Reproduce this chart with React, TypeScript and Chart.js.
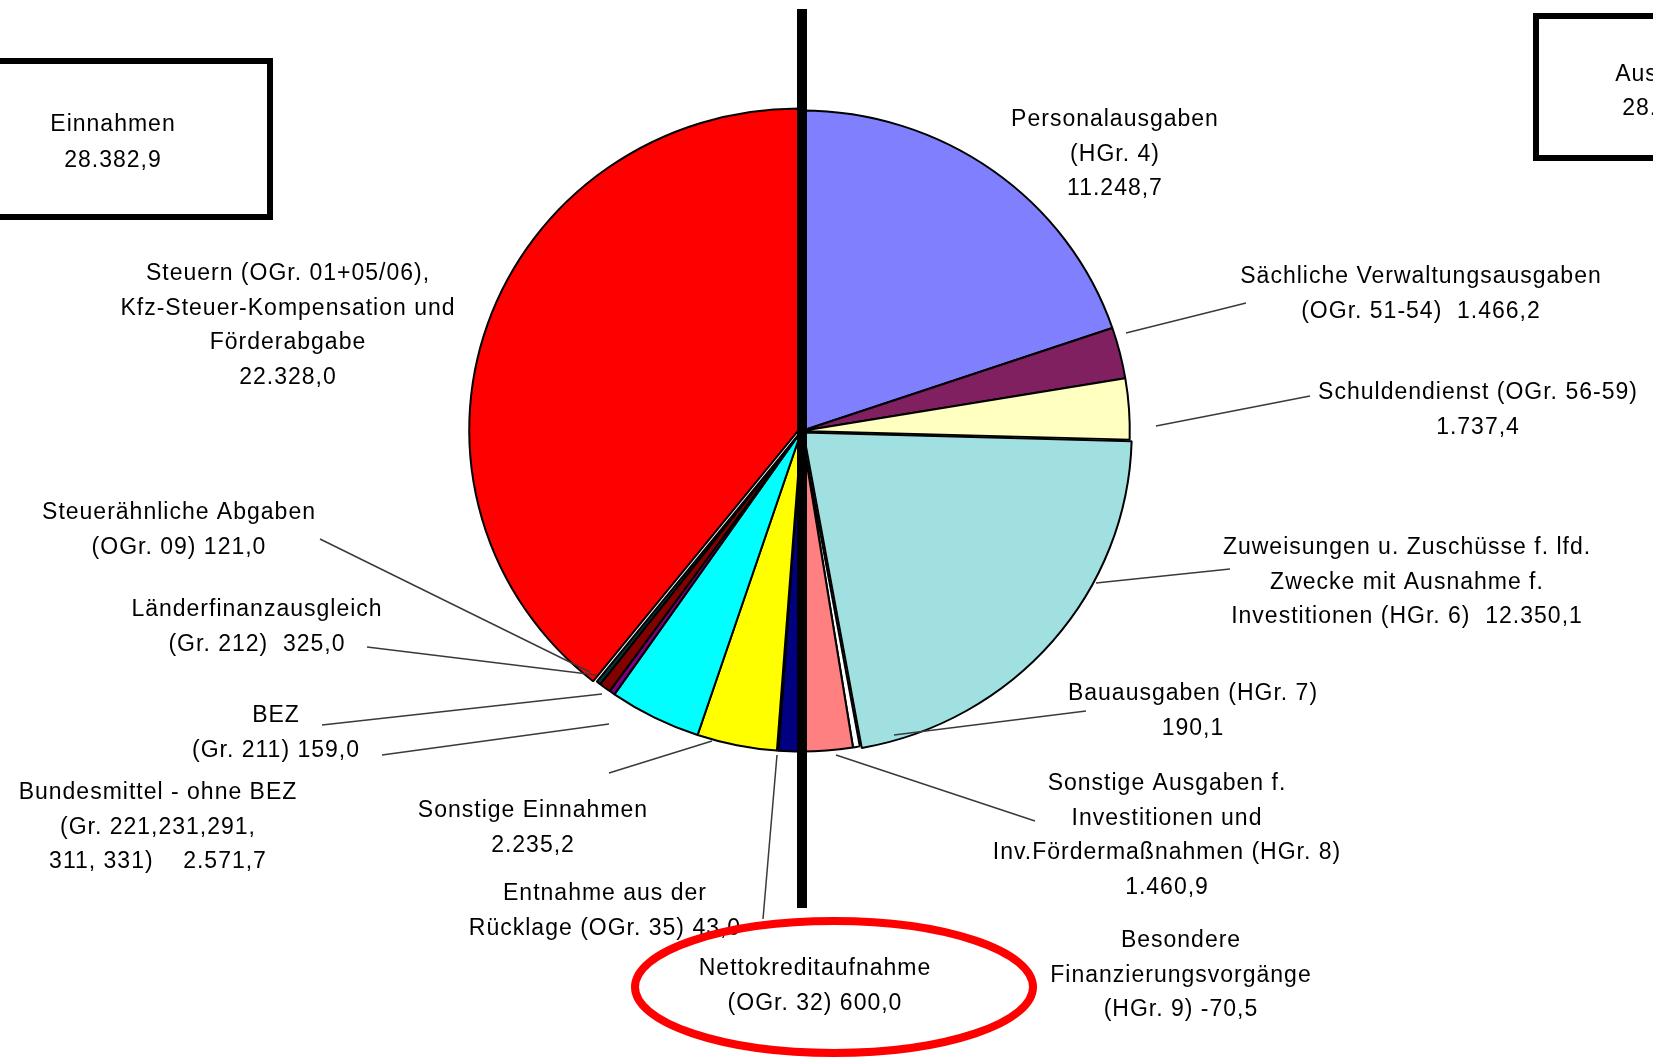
import { useEffect, useRef } from "react";
import { Chart, registerables } from "chart.js";

Chart.register(...registerables);

// ---------- data ----------
// Ausgaben (right half, clockwise from 12 o'clock)
const ausgabenNames = [
  "Personalausgaben",
  "Sächliche Verwaltungsausgaben",
  "Schuldendienst",
  "Zuweisungen u. Zuschüsse f. lfd. Zwecke",
  "Bauausgaben",
  "Sonstige Ausgaben f. Investitionen",
  "Besondere Finanzierungsvorgänge",
];
const ausgabenValues = [11248.7, 1466.2, 1737.4, 12350.1, 190.1, 1460.9, -70.5];
const ausgabenColors = ["#8080FF", "#802060", "#FFFFC0", "#A0E0E0", "#FFFFFF", "#FF8080", "#FFFFFF"];

// Einnahmen (left half, clockwise from 6 o'clock)
const einnahmenNames = [
  "Nettokreditaufnahme",
  "Entnahme aus der Rücklage",
  "Sonstige Einnahmen",
  "Bundesmittel - ohne BEZ",
  "BEZ",
  "Länderfinanzausgleich",
  "Steuerähnliche Abgaben",
  "Steuern, Kfz-Steuer-Kompensation und Förderabgabe",
];
const einnahmenValues = [600.0, 43.0, 2235.2, 2571.7, 159.0, 325.0, 121.0, 22328.0];
const einnahmenColors = ["#000080", "#FF00FF", "#FFFF00", "#00FFFF", "#800080", "#800000", "#003838", "#FF0000"];

// label texts ({v} = value of the slice)
const ausgabenLabelLines = [
  ["Personalausgaben", "(HGr. 4)", "{v}"],
  ["Sächliche Verwaltungsausgaben", "(OGr. 51-54)  {v}"],
  ["Schuldendienst (OGr. 56-59)", "{v}"],
  ["Zuweisungen u. Zuschüsse f. lfd.", "Zwecke mit Ausnahme f.", "Investitionen (HGr. 6)  {v}"],
  ["Bauausgaben (HGr. 7)", "{v}"],
  ["Sonstige Ausgaben f.", "Investitionen und", "Inv.Fördermaßnahmen (HGr. 8)", "{v}"],
  ["Besondere", "Finanzierungsvorgänge", "(HGr. 9) {v}"],
];
const einnahmenLabelLines = [
  ["Nettokreditaufnahme", "(OGr. 32) {v}"],
  ["Entnahme aus der", "Rücklage (OGr. 35) {v}"],
  ["Sonstige Einnahmen", "{v}"],
  ["Bundesmittel - ohne BEZ", "(Gr. 221,231,291,", "311, 331)    {v}"],
  ["BEZ", "(Gr. 211) {v}"],
  ["Länderfinanzausgleich", "(Gr. 212)  {v}"],
  ["Steuerähnliche Abgaben", "(OGr. 09) {v}"],
  ["Steuern (OGr. 01+05/06),", "Kfz-Steuer-Kompensation und", "Förderabgabe", "{v}"],
];

// ---------- layout (positions of annotations, not data) ----------
const ausgabenLabelPos = [
  [1115, 120], [1421, 277], [1478, 393], [1407, 548], [1193, 694], [1167, 784], [1181, 941],
];
const einnahmenLabelPos = [
  [815, 969], [605, 894], [533, 811], [158, 793], [276, 716], [257, 610], [179, 513], [288, 274],
];
const leaderLines = [
  [1126, 333, 1246, 303],
  [1156, 426, 1310, 396],
  [1096, 583, 1230, 569],
  [894, 735, 1086, 711],
  [836, 755, 1035, 821],
  [320, 539, 590, 672],
  [367, 647, 596, 675],
  [322, 725, 602, 694],
  [382, 755, 609, 724],
  [609, 773, 712, 741],
  [763, 919, 777, 755],
];

const FONT = '23px "Liberation Sans", Arial, sans-serif';
const LINE_H = 34.5;
const TEXT_COLOR = "#000000";
const PIE_SCALE_X = 1.007;
const PIE_SCALE_Y = 0.983;

function fmt(v: number): string {
  const neg = v < 0;
  const [i, d] = Math.abs(v).toFixed(1).split(".");
  const withDots = i.replace(/\B(?=(\d{3})+(?!\d))/g, ".");
  return (neg ? "-" : "") + withDots + "," + d;
}

const sum = (a: number[]) => a.reduce((s, x) => s + x, 0);

export default function App() {
  const ref = useRef<HTMLCanvasElement | null>(null);

  useEffect(() => {
    const canvas = ref.current;
    if (!canvas) return;

    const labels = [...ausgabenNames, ...einnahmenNames];
    const values = [...ausgabenValues.map((v) => Math.max(v, 0)), ...einnahmenValues];
    const colors = [...ausgabenColors, ...einnahmenColors];
    const offsets = labels.map((l) =>
      l.startsWith("Steuern,") ? 12 : l.startsWith("Zuweisungen") ? 10 : 0
    );

    const ellipseSquash = {
      id: "ellipseSquash",
      beforeDatasetsDraw(chart: any) {
        const arc = chart.getDatasetMeta(0).data[0];
        const ctx = chart.ctx;
        ctx.save();
        ctx.translate(arc.x, arc.y);
        ctx.scale(PIE_SCALE_X, PIE_SCALE_Y);
        ctx.translate(-arc.x, -arc.y);
      },
      afterDatasetsDraw(chart: any) {
        chart.ctx.restore();
      },
    };

    const annotations = {
      id: "annotations",
      afterDraw(chart: any) {
        const ctx: any = chart.ctx;
        ctx.save();

        // leader lines
        ctx.strokeStyle = "#3a3a3a";
        ctx.lineWidth = 1.5;
        for (const [x1, y1, x2, y2] of leaderLines) {
          ctx.beginPath();
          ctx.moveTo(x1, y1);
          ctx.lineTo(x2, y2);
          ctx.stroke();
        }

        // labels
        ctx.font = FONT;
        ctx.letterSpacing = "1px";
        ctx.fillStyle = TEXT_COLOR;
        ctx.textAlign = "center";
        ctx.textBaseline = "middle";
        const drawBlock = (lines: string[], pos: number[], v: number) => {
          lines.forEach((ln, k) => {
            ctx.fillText(ln.replace("{v}", fmt(v)), pos[0], pos[1] + k * LINE_H);
          });
        };
        ausgabenLabelLines.forEach((lines, i) => drawBlock(lines, ausgabenLabelPos[i], ausgabenValues[i]));
        einnahmenLabelLines.forEach((lines, i) => drawBlock(lines, einnahmenLabelPos[i], einnahmenValues[i]));

        // total boxes
        ctx.strokeStyle = "#000";
        ctx.lineWidth = 6;
        ctx.strokeRect(-50, 61, 320, 156);
        ctx.strokeRect(1536, 16, 300, 142);
        ctx.fillText("Einnahmen", 113, 125);
        ctx.fillText(fmt(sum(einnahmenValues)), 113, 161);
        ctx.fillText("Ausgaben", 1671, 75);
        ctx.fillText(fmt(sum(ausgabenValues)), 1671, 109);

        // vertical divider
        ctx.fillStyle = "#000";
        ctx.fillRect(797, 9, 10, 899);

        // red highlight ellipse
        ctx.strokeStyle = "#FF0000";
        ctx.lineWidth = 8;
        ctx.beginPath();
        ctx.ellipse(834, 987, 199, 66, 0, 0, Math.PI * 2);
        ctx.stroke();

        ctx.restore();
      },
    };

    const chart = new Chart(canvas, {
      type: "pie",
      data: {
        labels,
        datasets: [
          {
            data: values,
            backgroundColor: colors,
            borderColor: "#000",
            borderWidth: 2,
            offset: offsets,
            radius: 326,
          } as any,
        ],
      },
      options: {
        responsive: false,
        animation: false,
        devicePixelRatio: 1,
        radius: 326,
        layout: { padding: { left: 401, right: 451, top: 31, bottom: 227 } },
        plugins: {
          legend: { display: false },
          tooltip: { enabled: false },
        },
      } as any,
      plugins: [ellipseSquash, annotations],
    });

    return () => chart.destroy();
  }, []);

  return (
    <div style={{ position: "absolute", left: 0, top: 0, width: 1653, height: 1058, background: "#fff" }}>
      <canvas ref={ref} width={1653} height={1058} style={{ display: "block" }} />
    </div>
  );
}
